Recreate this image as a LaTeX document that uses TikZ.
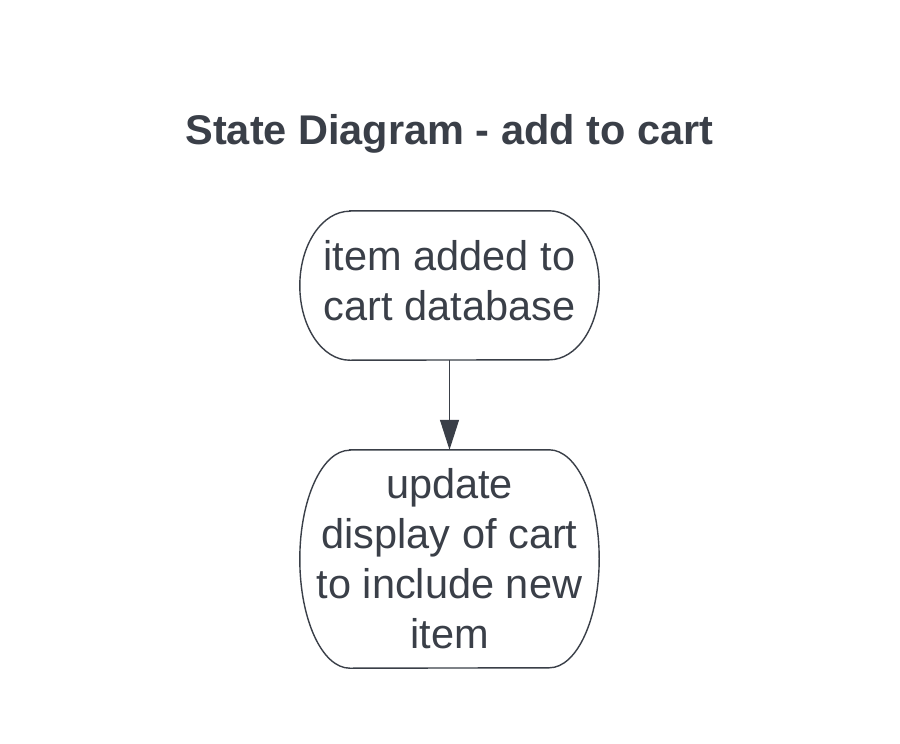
\documentclass[tikz,border=0pt]{standalone}
\usepackage{fontspec}
\setmainfont{Liberation Sans}
\usetikzlibrary{arrows.meta}
\definecolor{ink}{HTML}{3A3F48}
\tikzset{
  statebox/.style={draw=none, rectangle, inner sep=0pt, text=ink, align=center,
    font=\fontsize{41.5}{50}\selectfont},
  outline/.style={draw=ink, line width=1.4pt},
  flow/.style={draw=ink, line width=1.2pt, -{Triangle[length=30pt,width=19pt]}},
  titletext/.style={text=ink, font=\fontsize{41.5}{50}\selectfont\bfseries, inner sep=0pt}
}
\begin{document}
\begin{tikzpicture}[x=1pt,y=-1pt]
\path[use as bounding box, fill=white] (0,0) rectangle (900,744);
\node[titletext] (title) at (449.5,134) {State Diagram - add to cart};
% text of s1 sits 5pt above the outline's centre
\node[statebox, minimum width=299pt, minimum height=149pt] (s1) at (449.5,280.5) {item added to\\cart database};
\node[statebox, minimum width=299pt, minimum height=218pt] (s2) at (449.5,559) {update\\display of cart\\to include new\\item};
\draw[outline] ([shift={(50pt,-5pt)}]s1.north west) -- ([shift={(-50pt,-5pt)}]s1.north east)
  arc[start angle=90, end angle=-90, x radius=50pt, y radius=74.5pt]
  -- ([shift={(50pt,-5pt)}]s1.south west)
  arc[start angle=270, end angle=90, x radius=50pt, y radius=74.5pt] -- cycle;
\draw[outline] ([xshift=50pt]s2.north west) -- ([xshift=-50pt]s2.north east)
  arc[start angle=90, end angle=-90, x radius=50pt, y radius=109pt]
  -- ([xshift=50pt]s2.south west)
  arc[start angle=270, end angle=90, x radius=50pt, y radius=109pt] -- cycle;
\draw[flow] ([yshift=-5pt]s1.south) -- (s2.north);
\end{tikzpicture}
\end{document}
